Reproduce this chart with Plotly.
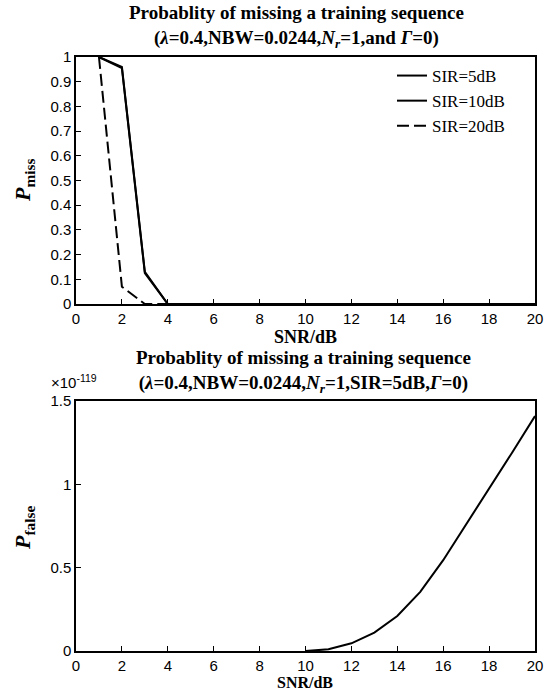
import plotly.graph_objects as go

# ---- data ----
snr = list(range(1, 21))
pmiss_sir5 = [1.0, 0.96, 0.13, 0.0] + [0.0] * 16
pmiss_sir10 = [1.0, 0.955, 0.125, 0.0] + [0.0] * 16
pmiss_sir20 = [1.0, 0.07, 0.0, 0.0] + [0.0] * 16

snr_false = list(range(10, 21))
pfalse = [0.0, 0.01, 0.046, 0.11, 0.21, 0.355, 0.545, 0.76, 0.97, 1.19, 1.41]  # x 1e-119

x_ticks = list(range(0, 21, 2))
y1_ticks = [0, 0.1, 0.2, 0.3, 0.4, 0.5, 0.6, 0.7, 0.8, 0.9, 1]
y1_ticktext = ["0", "0.1", "0.2", "0.3", "0.4", "0.5", "0.6", "0.7", "0.8", "0.9", "1"]
y2_ticks = [0, 0.5, 1, 1.5]
y2_ticktext = ["0", "0.5", "1", "1.5"]

W, H = 546, 691
serif = "Liberation Serif"
sans = "Liberation Sans"

fig = go.Figure()
fig.add_trace(go.Scatter(x=snr, y=pmiss_sir5, mode="lines", name="SIR=5dB",
                         line=dict(color="black", width=2), xaxis="x", yaxis="y"))
fig.add_trace(go.Scatter(x=snr, y=pmiss_sir10, mode="lines", name="SIR=10dB",
                         line=dict(color="black", width=2), xaxis="x", yaxis="y"))
fig.add_trace(go.Scatter(x=snr, y=pmiss_sir20, mode="lines", name="SIR=20dB",
                         line=dict(color="black", width=2, dash="12px,5px"), xaxis="x", yaxis="y"))
fig.add_trace(go.Scatter(x=snr_false, y=pfalse, mode="lines", showlegend=False,
                         line=dict(color="black", width=2), xaxis="x2", yaxis="y2"))

xdom = [76 / W, 535 / W]
y1dom = [(H - 304) / H, (H - 57) / H]
y2dom = [(H - 651) / H, (H - 401) / H]

axis_common = dict(showgrid=False, zeroline=False, showline=True, linecolor="black",
                   linewidth=1.5, mirror=True, ticks="inside", ticklen=5, tickwidth=1,
                   automargin=False,
                   tickcolor="black", tickfont=dict(family=sans, size=15, color="black"))

fig.update_layout(
    template="none",
    width=W, height=H, margin=dict(l=0, r=0, t=0, b=0, pad=0),
    paper_bgcolor="white", plot_bgcolor="white",
    xaxis=dict(domain=xdom, range=[0, 20], tickvals=x_ticks, anchor="y", **axis_common),
    yaxis=dict(domain=y1dom, range=[0, 1], tickvals=y1_ticks, ticktext=y1_ticktext,
               anchor="x", **axis_common),
    xaxis2=dict(domain=xdom, range=[0, 20], tickvals=x_ticks, anchor="y2", **axis_common),
    yaxis2=dict(domain=y2dom, range=[0, 1.5], tickvals=y2_ticks, ticktext=y2_ticktext,
                anchor="x2", **axis_common),
    legend=dict(x=392 / W, y=1 - 58 / H, xanchor="left", yanchor="top",
                bgcolor="rgba(0,0,0,0)", borderwidth=0, itemwidth=30,
                font=dict(family=serif, size=17, color="black"), tracegroupgap=0),
    showlegend=True,
)

def ann(text, x, y, size, angle=0, family=serif, xanchor="center", yanchor="middle"):
    fig.add_annotation(text=text, x=x / W, y=1 - y / H, xref="paper", yref="paper",
                       showarrow=False, textangle=angle, xanchor=xanchor, yanchor=yanchor,
                       borderpad=0,
                       font=dict(family=family, size=size, color="black"))

ann("<b>Probablity of missing a training sequence</b><br>"
    "<b>(<i>λ</i>=0.4,NBW=0.0244,<i>N</i><sub><i>r</i></sub>=1,and <i>Γ</i>=0)</b>", 296, 27, 19)
ann("<b>SNR/dB</b>", 305, 337, 18)
ann("<b>Probablity of missing a training sequence</b><br>"
    "<b>(<i>λ</i>=0.4,NBW=0.0244,<i>N</i><sub><i>r</i></sub>=1,SIR=5dB,<i>Γ</i>=0)</b>", 303, 371, 19)
ann("×10<sup>-119</sup>", 50, 381, 15, family=sans, xanchor="left")
ann("<b>SNR/dB</b>", 305, 692, 16, yanchor="bottom")
ann("<b><i>P</i><sub>miss</sub></b>", 24, 180, 22, angle=-90)
ann("<b><i>P</i><sub>false</sub></b>", 24, 528, 22, angle=-90)

post = ("document.documentElement.style.margin='0';document.body.style.margin='0';"
        "document.documentElement.style.overflow='hidden';document.body.style.overflow='hidden';"
        "var d=document.getElementById('{plot_id}');d.style.position='fixed';"
        "d.style.left='0px';d.style.top='0px';")
fig.write_html("out.html", post_script=post, config={"displayModeBar": False})
